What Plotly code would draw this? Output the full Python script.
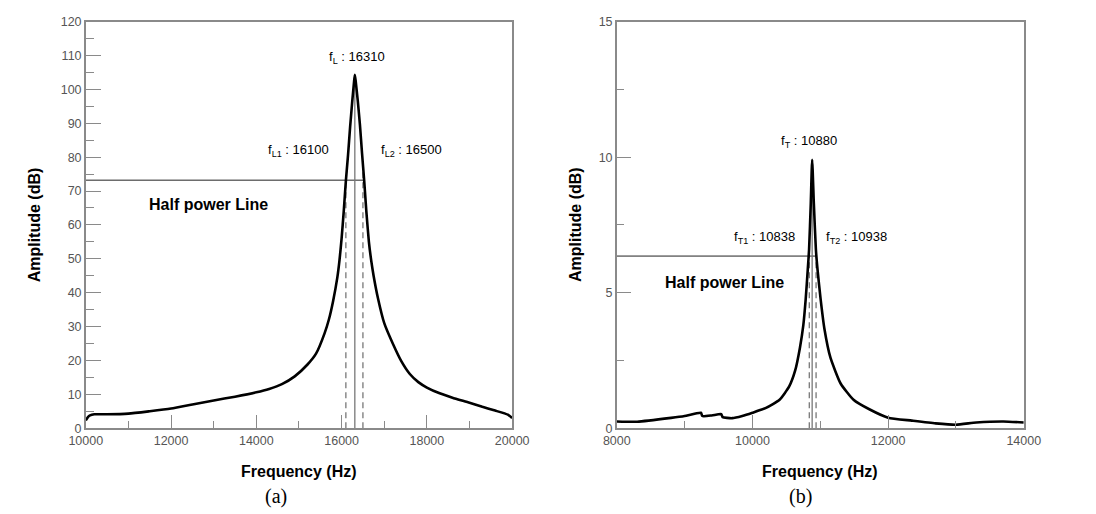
import plotly.graph_objects as go

W, H = 1096, 514

# ---------------- data (a) ----------------
freq_a = [10000, 10050, 10100, 10200, 10500, 11000, 11500, 12000, 12500, 13000, 13500,
          14000, 14300, 14600, 14900, 15200, 15400, 15600, 15700, 15800, 15900, 15950,
          16000, 16050, 16100, 16150, 16200, 16250, 16290, 16310, 16330, 16380, 16430,
          16480, 16530, 16580, 16640, 16700, 16750, 16850, 17000, 17200, 17400, 17600,
          17800, 18000, 18300, 18600, 19000, 19300, 19600, 19900, 20000]
amp_a = [2.3, 3.3, 3.8, 4.1, 4.1, 4.3, 5.0, 5.8, 7.0, 8.2, 9.3,
         10.6, 11.6, 13.0, 15.3, 18.8, 22.0, 28.0, 32.0, 37.5, 44.5, 49.5,
         56.0, 64.0, 73.0, 80.5, 89.0, 96.5, 102.0, 104.3, 102.5, 96.5, 89.5,
         81.0, 73.0, 64.0, 55.0, 49.0, 45.0, 38.5, 31.0, 25.0, 19.8, 16.0,
         13.6, 12.0, 10.3, 9.0, 7.5, 6.3, 5.2, 4.0, 3.0]
peak_a = (16310, 104.3)
half_a = 73.2
half_pts_a = [16100, 16500]
half_tops_a = [73.2, 77.0]
xticks_a = [10000, 12000, 14000, 16000, 18000, 20000]
yticks_a = [0, 10, 20, 30, 40, 50, 60, 70, 80, 90, 100, 110, 120]

# ---------------- data (b) ----------------
freq_b = [8000, 8300, 8800, 9000, 9240, 9260, 9400, 9540, 9560, 9700, 9850, 10000,
          10200, 10400, 10540, 10630, 10700, 10750, 10785, 10815, 10835, 10860, 10880,
          10905, 10935, 10960, 11005, 11060, 11150, 11300, 11490, 11730, 12000, 12350,
          12700, 13000, 13300, 13700, 14000]
amp_b = [0.25, 0.24, 0.38, 0.45, 0.57, 0.45, 0.47, 0.52, 0.41, 0.37, 0.45, 0.57,
         0.75, 1.05, 1.53, 2.13, 2.97, 3.8, 4.76, 5.84, 6.6, 8.3, 9.9,
         8.3, 6.6, 5.84, 4.76, 3.68, 2.6, 1.65, 1.05, 0.69, 0.39, 0.28,
         0.18, 0.13, 0.21, 0.25, 0.21]
peak_b = (10880, 9.9)
half_b = 6.35
half_pts_b = [10838, 10938]
half_tops_b = [6.35, 6.35]
xticks_b = [8000, 10000, 12000, 14000]
yticks_b = [0, 5, 10, 15]

# ---------------- layout geometry ----------------
def px(x):
    return x / W

def py(y):
    return 1 - y / H

ydom = [py(433), py(15)]
xdom_a = [px(71), px(511)]
xdom_b = [px(619), px(1039)]

fig = go.Figure()

GRAY = "#8a8a8a"

def add_panel(xa, ya, freq, amp, peak, half, pts, tops, x0):
    fig.add_trace(go.Scatter(x=[x0, pts[1] + (pts[1] - pts[0]) * 0.07], y=[half, half],
                             mode="lines", line=dict(color="#222222", width=1),
                             xaxis=xa, yaxis=ya, showlegend=False, hoverinfo="skip"))
    for p, t in zip(pts, tops):
        fig.add_trace(go.Scatter(x=[p, p], y=[0, t], mode="lines",
                                 line=dict(color="#777777", width=1.3, dash="6px,4px"),
                                 xaxis=xa, yaxis=ya, showlegend=False, hoverinfo="skip"))
    fig.add_trace(go.Scatter(x=[peak[0], peak[0]], y=[0, peak[1]], mode="lines",
                             line=dict(color="#777777", width=1.3),
                             xaxis=xa, yaxis=ya, showlegend=False, hoverinfo="skip"))
    fig.add_trace(go.Scatter(x=freq, y=amp, mode="lines",
                             line=dict(color="black", width=2.6, shape="spline", smoothing=0.5),
                             xaxis=xa, yaxis=ya, showlegend=False))

add_panel("x", "y", freq_a, amp_a, peak_a, half_a, half_pts_a, half_tops_a, 10000)
add_panel("x2", "y2", freq_b, amp_b, peak_b, half_b, half_pts_b, half_tops_b, 8000)

tickfont = dict(family="Liberation Sans, Arial", size=12.5, color="#555555")
common = dict(showgrid=False, zeroline=False, showline=True, linecolor=GRAY, linewidth=1.5,
              mirror=True, ticks="inside", tickcolor=GRAY, tickwidth=1.3, tickfont=tickfont)

def minor(d, t0, ln):
    return dict(dtick=d, tick0=t0, ticklen=ln, ticks="inside", tickcolor=GRAY, tickwidth=1.3)

fig.update_layout(
    width=W, height=H,
    margin=dict(l=0, r=0, t=0, b=0),
    paper_bgcolor="white", plot_bgcolor="white",
    xaxis=dict(domain=xdom_a, range=[10000, 20000], tickvals=xticks_a,
               ticktext=[str(v) for v in xticks_a], ticklen=13,
               minor=minor(1000, 10000, 7), anchor="y", **common),
    yaxis=dict(domain=ydom, range=[0, 120], tickvals=yticks_a,
               ticktext=[str(v) for v in yticks_a], ticklen=15,
               minor=minor(5, 0, 8), anchor="x", **common),
    xaxis2=dict(domain=xdom_b, range=[8000, 14000], tickvals=xticks_b,
                ticktext=[str(v) for v in xticks_b], ticklen=13,
                minor=minor(1000, 8000, 7), anchor="y2", **common),
    yaxis2=dict(domain=ydom, range=[0, 15], tickvals=yticks_b,
                ticktext=[str(v) for v in yticks_b], ticklen=14,
                minor=minor(2.5, 0, 7), anchor="x2", **common),
)

ann_font = dict(family="Liberation Sans, Arial", size=13, color="black")
bold_font = dict(family="Liberation Sans, Arial", size=16, color="black")
serif_font = dict(family="Liberation Serif, Times New Roman", size=20, color="black")

def ann(x, y, text, font, **kw):
    fig.add_annotation(x=px(x), y=py(y), xref="paper", yref="paper", text=text,
                       showarrow=False, font=font, xanchor="center", yanchor="middle", **kw)

# panel (a) labels
ann(351, 52, "f<sub>L</sub> : 16310", ann_font)
ann(290, 148, "f<sub>L1</sub> : 16100", ann_font)
ann(407, 148, "f<sub>L2</sub> : 16500", ann_font)
ann(198, 203, "<b>Half power Line</b>", bold_font)
ann(18, 224, "<b>Amplitude (dB)</b>", bold_font, textangle=-90)
ann(291, 477, "<b>Frequency (Hz)</b>", bold_font)
ann(267, 503, "(a)", serif_font)

# panel (b) labels
ann(817, 138, "f<sub>T</sub> : 10880", ann_font)
ann(771, 237, "f<sub>T1</sub> : 10838", ann_font)
ann(866, 237, "f<sub>T2</sub> : 10938", ann_font)
ann(730, 283, "<b>Half power Line</b>", bold_font)
ann(577, 224, "<b>Amplitude (dB)</b>", bold_font, textangle=-90)
ann(829, 477, "<b>Frequency (Hz)</b>", bold_font)
ann(809, 503, "(b)", serif_font)

fig.write_html("out.html")
